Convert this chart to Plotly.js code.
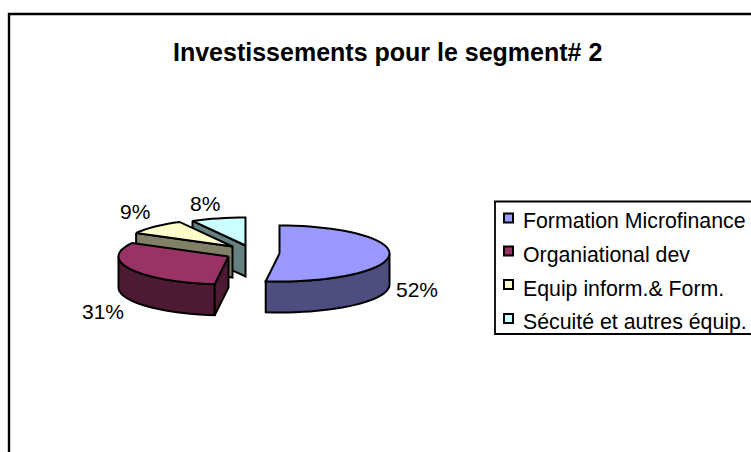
<!DOCTYPE html>
<html><head><meta charset="utf-8">
<script src="https://cdn.plot.ly/plotly-3.0.1.min.js"></script>
<style>html,body{margin:0;padding:0;background:#fff;overflow:hidden}#c{width:751px;height:452px}</style>
</head><body><div id="c"></div>
<script>
const categories = ["Formation Microfinance","Organiational dev","Equip inform.& Form.","Sécuité et autres équip."];
const shares = [52,31,9,8];
const topColors = ["#9999FF","#993366","#FFFFCC","#CCFFFF"];
const sideColors = ["#4D4D80","#4D1A33","#808066","#668080"];
const chartTitle = "Investissements pour le segment# 2";

// projected pie: explode centres, ellipse radii, wall depth (axis units = px)
const centres = [[279.5,253.5],[228.5,256.5],[232.5,246.5],[245.5,245.5]];
const RX=110, RY=28, DEPTH=31;
const INK="#000";

// cumulative angle (deg clockwise from top) derived from the shares
const total = shares.reduce((a,b)=>a+b,0);
let run=0;
const spans = shares.map(v=>{const a=run; run+=v/total*360; return [a,run];});

const pt=(c,deg,dz=0)=>{const r=deg*Math.PI/180;return [c[0]+RX*Math.sin(r), c[1]-RY*Math.cos(r)+dz];};
function arc(c,a,b,dz=0){const n=Math.max(2,Math.ceil(Math.abs(b-a)/4));const o=[];
  for(let i=0;i<=n;i++)o.push(pt(c,a+(b-a)*i/n,dz));return o;}
function poly(points,fill){const p=points.concat([points[0]]);
  return {type:"scatter",mode:"lines",x:p.map(q=>q[0]),y:p.map(q=>q[1]),fill:"toself",fillcolor:fill,
    line:{color:INK,width:2,simplify:false},hoverinfo:"skip",showlegend:false};}
function face(i){const c=centres[i],[a,b]=spans[i];return poly([c].concat(arc(c,a,b)),topColors[i]);}
function cut(i,deg){const c=centres[i],e=pt(c,deg);
  return poly([e,c,[c[0],c[1]+DEPTH],[e[0],e[1]+DEPTH]],sideColors[i]);}
function wall(i,a,b){const c=centres[i];
  return poly(arc(c,a,b).concat(arc(c,b,a,DEPTH)),sideColors[i]);}

const traces=[
  cut(3,spans[3][0]), face(3),
  cut(2,spans[2][0]), face(2),
  wall(1,spans[1][0],270), cut(1,spans[1][0]), face(1),
  wall(0,90,spans[0][1]), face(0)
];

// drawn key (the library's own legend cannot give this key-to-text spacing)
const keyY=[218,251,284.5,318.5];
const keyTextY=[221,255,288.5,322];
traces.push({type:"scatter",mode:"markers",x:categories.map(()=>508.5),y:keyY,hoverinfo:"skip",showlegend:false,
  cliponaxis:false,marker:{symbol:"square",size:9,color:topColors,line:{color:INK,width:2}}});

const labelPos=[[417,289],[103,311],[134.5,211],[205,203.5]];
const annotations=shares.map((v,i)=>({x:labelPos[i][0],y:labelPos[i][1],xref:"x",yref:"y",text:v+"%",showarrow:false,
  font:{family:"Liberation Sans",size:21,color:"#000"}}));
categories.forEach((name,i)=>annotations.push({x:522,y:keyTextY[i],xref:"x",yref:"y",xanchor:"left",text:name,showarrow:false,
  borderpad:0,font:{family:"Liberation Sans",size:21.3,color:"#000"}}));
annotations.push({x:387.5,y:52,xref:"x",yref:"y",text:"<b>"+chartTitle+"</b>",showarrow:false,
  font:{family:"Liberation Sans",size:25,color:"#000"}});

const layout={width:751,height:452,margin:{l:0,r:0,t:0,b:0},paper_bgcolor:"#fff",plot_bgcolor:"#fff",
  xaxis:{range:[0,751],visible:false,fixedrange:true},
  yaxis:{range:[452,0],visible:false,fixedrange:true},
  annotations:annotations,
  shapes:[
    {type:"rect",xref:"x",yref:"y",x0:9,y0:14,x1:900,y1:900,line:{color:"#000",width:2.4},layer:"below"},
    {type:"rect",xref:"x",yref:"y",x0:495,y0:201.5,x1:900,y1:334,line:{color:"#000",width:1.8},layer:"below"}
  ],
  showlegend:false
};
Plotly.newPlot("c",traces,layout,{displayModeBar:false,staticPlot:true});
</script></body></html>
